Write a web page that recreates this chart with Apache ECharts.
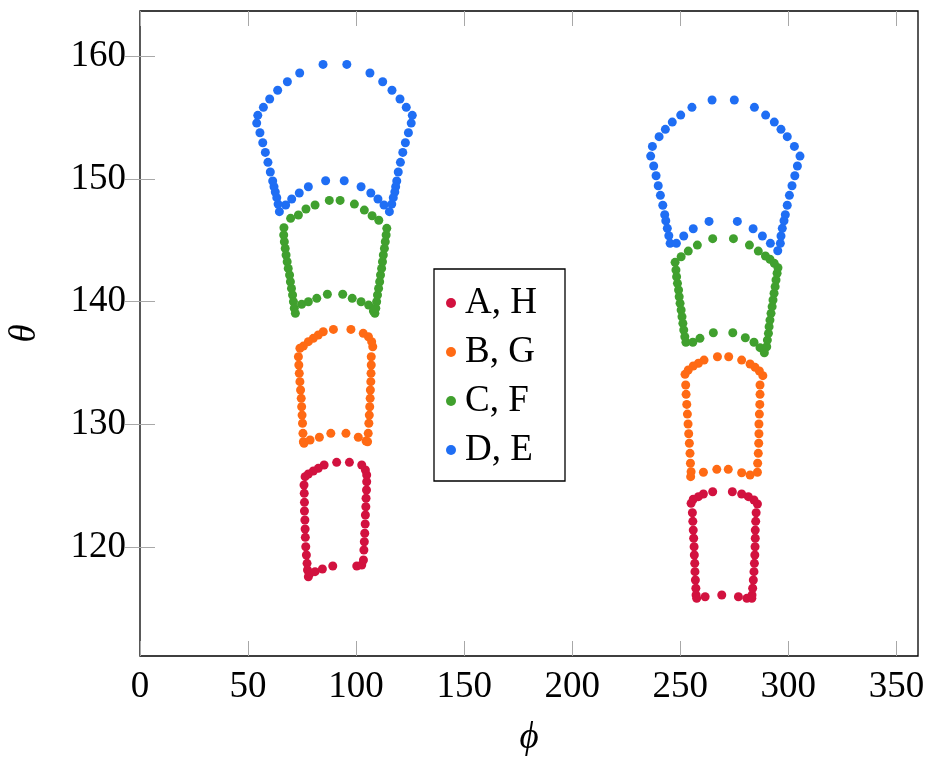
<!DOCTYPE html>
<html>
<head>
<meta charset="utf-8">
<script src="https://cdn.jsdelivr.net/npm/echarts@6/dist/echarts.min.js"></script>
<style>
  html, body { margin: 0; padding: 0; background: #fff; }
  #chart { width: 928px; height: 758px; }
</style>
</head>
<body>
<div id="chart"></div>
<script>
  // tick values
  var xTicks = [0, 50, 100, 150, 200, 250, 300, 350];
  var yTicks = [120, 130, 140, 150, 160];

  // legend names (one colour per pair)
  var names = ['A, H', 'B, G', 'C, F', 'D, E'];
  var colors = ['#d2123f', '#ff6a14', '#40a02e', '#1f6ef4'];

  // [phi, theta] points, left cluster
  var redLeft = [[91.0,126.9],[96.9,126.9],[85.2,126.68],[82.5,126.41],[80.2,126.19],[77.9,125.95],[76.4,125.73],
    [75.9,125.05],[76.0,124.37],[76.1,123.64],[76.1,122.93],[76.3,122.2],[76.4,121.47],[76.5,120.79],[76.7,120.02],
    [77.0,119.35],[77.3,118.67],[77.5,118.13],[77.9,117.58],[78.7,117.86],[81.0,117.99],[84.4,118.21],[89.2,118.45],
    [100.3,118.45],[102.6,118.53],[103.4,118.94],[103.6,119.76],[103.8,120.43],[104.0,121.12],[104.2,121.87],
    [104.3,122.61],[104.5,123.28],[104.6,123.97],[104.8,124.64],[104.9,125.32],[104.9,125.87],[104.3,126.27],[102.6,126.68]];
  var orangeLeft = [[89.5,137.73],[97.6,137.73],[84.8,137.54],[82.5,137.27],[80.2,137.0],[77.9,136.73],[75.6,136.37],[74.0,136.19],
    [73.3,135.5],[73.5,134.83],[73.7,134.15],[74.0,133.47],[74.3,132.79],[74.6,132.11],[74.8,131.43],[75.0,130.75],
    [75.2,130.08],[75.4,129.26],[75.6,128.58],[75.9,128.45],[78.7,128.72],[83.0,128.94],[88.3,129.26],[95.3,129.26],
    [101.0,128.94],[104.6,128.64],[105.3,128.58],[105.6,129.26],[105.9,130.08],[106.1,130.75],[106.3,131.43],
    [106.5,132.11],[106.6,132.79],[106.8,133.47],[106.9,134.15],[107.0,134.83],[107.0,135.5],[107.7,136.32],
    [107.2,136.73],[105.7,137.13],[103.3,137.41]];
  var greenLeft = [[87.6,148.24],[92.6,148.24],[81.0,147.86],[76.8,147.54],[73.3,147.05],[69.7,146.78],[66.6,146.01],
    [66.5,145.42],[66.8,144.87],[67.2,144.33],[67.6,143.79],[68.1,143.24],[68.6,142.7],[69.2,142.16],[69.6,141.61],
    [70.1,141.07],[70.6,140.53],[71.0,139.98],[71.4,139.45],[71.9,139.04],[74.8,139.77],[77.9,139.98],[81.8,140.26],
    [86.7,140.59],[93.8,140.59],[98.2,140.26],[102.3,139.98],[105.8,139.71],[108.0,139.23],[108.7,139.04],
    [109.1,139.45],[109.5,139.98],[109.9,140.53],[110.4,141.07],[110.9,141.61],[111.3,142.16],[111.8,142.7],
    [112.2,143.24],[112.6,143.79],[113.1,144.33],[113.5,144.87],[113.9,145.42],[114.2,145.96],[110.5,146.62],
    [107.4,146.99],[103.8,147.45],[99.2,147.94]];
  var blueLeft = [[54.0,154.54],[54.5,155.17],[57.1,155.82],[60.0,156.5],[63.7,157.21],[68.2,157.91],[73.9,158.62],
    [84.7,159.32],[95.7,159.32],[106.4,158.62],[112.3,157.91],[116.6,157.21],[120.3,156.5],[123.2,155.82],
    [126.0,155.17],[125.5,154.54],[124.2,153.75],[122.8,152.94],[121.6,152.15],[120.5,151.34],[119.5,150.55],
    [118.8,149.82],[118.3,149.35],[117.9,148.92],[117.2,148.46],[116.5,147.94],[115.4,147.32],[112.9,147.86],
    [110.1,148.35],[106.8,148.84],[102.3,149.35],[94.5,149.84],[85.9,149.84],[77.9,149.35],[73.7,148.84],
    [70.2,148.35],[67.4,147.86],[64.5,147.32],[63.9,147.94],[63.3,148.46],[62.6,148.92],[62.0,149.35],
    [61.4,149.82],[60.3,150.55],[59.2,151.34],[58.0,152.15],[56.8,152.94],[55.5,153.75]];

  // [phi, theta] points, right cluster
  var redRight = [[265.0,124.5],[274.1,124.5],[260.7,124.32],[258.4,124.1],[256.0,123.89],[255.0,123.56],
    [255.6,122.79],[255.8,122.09],[256.0,121.38],[256.2,120.71],[256.4,120.02],[256.5,119.35],[256.7,118.67],
    [256.8,117.99],[257.0,117.31],[257.2,116.64],[257.3,116.09],[257.6,115.82],[261.5,115.95],[269.2,116.09],
    [276.9,115.95],[280.8,115.82],[283.1,115.82],[283.2,116.09],[283.5,116.64],[283.8,117.31],[284.1,117.99],
    [284.3,118.67],[284.5,119.35],[284.6,120.02],[284.7,120.71],[284.7,121.38],[284.9,122.09],[285.1,122.79],
    [285.7,123.5],[284.1,123.83],[281.5,124.1],[278.4,124.32]];
  var orangeRight = [[267.2,135.5],[272.4,135.5],[261.0,135.23],[258.4,134.97],[256.0,134.75],[253.7,134.42],[252.2,134.07],
    [252.5,133.2],[252.7,132.44],[253.0,131.62],[253.3,130.83],[253.6,130.02],[253.9,129.23],[254.2,128.45],
    [254.5,127.63],[254.7,126.82],[255.0,126.13],[254.8,125.73],[260.7,126.09],[266.9,126.33],[272.2,126.33],
    [278.4,126.05],[282.3,125.87],[285.7,126.09],[285.8,126.82],[286.1,127.63],[286.3,128.45],[286.4,129.23],
    [286.4,130.02],[286.6,130.83],[286.8,131.62],[286.9,132.44],[286.9,133.2],[288.2,133.96],[286.6,134.34],
    [284.6,134.64],[282.3,134.91],[278.4,135.23]];
  var greenRight = [[265.0,145.12],[274.6,145.12],[257.9,144.6],[253.7,144.11],[250.4,143.65],[247.6,143.19],
    [248.0,142.57],[248.3,142.02],[248.7,141.48],[249.2,140.94],[249.5,140.39],[249.9,139.85],[250.4,139.31],
    [250.8,138.76],[251.2,138.22],[251.6,137.68],[252.1,137.13],[252.6,136.68],[255.8,136.68],[259.1,137.0],
    [265.3,137.46],[274.3,137.46],[280.1,137.05],[284.1,136.68],[286.9,136.24],[288.9,135.83],[290.0,136.32],
    [290.3,136.86],[290.8,137.41],[291.1,137.95],[291.5,138.49],[292.0,139.04],[292.5,139.58],[292.9,140.12],
    [293.4,140.67],[293.9,141.21],[294.3,141.75],[294.8,142.3],[295.2,142.75],[293.5,143.11],[291.5,143.44],
    [289.4,143.71],[286.1,144.11],[282.0,144.6]];
  var blueRight = [[264.7,156.42],[275.0,156.42],[255.4,155.82],[250.2,155.19],[246.3,154.62],[243.1,154.03],
    [240.2,153.43],[237.1,152.64],[236.3,151.85],[237.7,151.04],[238.8,150.25],[239.8,149.43],[240.8,148.65],
    [241.9,147.84],[242.8,147.07],[243.3,146.58],[244.0,145.96],[244.7,145.36],[245.3,144.74],[248.2,144.74],
    [251.6,145.34],[256.0,145.93],[263.3,146.53],[276.4,146.53],[283.7,145.93],[288.0,145.34],[291.7,144.74],
    [295.1,144.14],[296.3,144.74],[296.6,145.34],[297.2,145.96],[298.0,146.58],[298.6,147.07],[299.5,147.84],
    [300.5,148.65],[301.7,149.43],[303.0,150.25],[304.2,151.04],[305.4,151.85],[302.8,152.64],[299.5,153.43],
    [296.6,154.03],[293.5,154.62],[289.5,155.19],[284.3,155.82]];

  var seriesData = [
    redLeft.concat(redRight),
    orangeLeft.concat(orangeRight),
    greenLeft.concat(greenRight),
    blueLeft.concat(blueRight)
  ];

  var font = 'Liberation Serif';
  var fs = 37;
  var tickStyle = { show: true, inside: true, length: 15, lineStyle: { color: '#a8a8a8', width: 1 } };

  var chart = echarts.init(document.getElementById('chart'));
  var option = {
    animation: false,
    backgroundColor: '#fff',
    textStyle: { fontFamily: font },
    grid: {
      left: 140, right: 10, top: 11, bottom: 102,
      outerBoundsMode: 'none',
      containLabel: false,
      show: true, borderColor: '#000', borderWidth: 1.3, backgroundColor: 'transparent'
    },
    legend: {
      orient: 'vertical',
      left: 434, top: 269,
      padding: [14, 14, 11, 12],
      borderColor: '#000', borderWidth: 1.3,
      backgroundColor: '#fff',
      icon: 'circle',
      itemWidth: 10, itemHeight: 10,
      itemGap: 9,
      textStyle: { fontFamily: font, fontSize: fs, color: '#000', lineHeight: 40, width: 86, padding: [0, 0, 0, 4] },
      data: names
    },
    xAxis: [{
      type: 'value', min: 0, max: 360, position: 'bottom',
      name: 'ϕ', nameLocation: 'middle', nameGap: 64,
      nameTextStyle: { fontFamily: font, fontStyle: 'italic', fontSize: fs, color: '#000' },
      axisLine: { show: false },
      splitLine: { show: false },
      axisTick: Object.assign({ customValues: xTicks }, tickStyle),
      axisLabel: { customValues: xTicks, fontFamily: font, fontSize: fs, color: '#000', margin: 13 }
    }, {
      type: 'value', min: 0, max: 360, position: 'top',
      axisLine: { show: false }, splitLine: { show: false },
      axisTick: Object.assign({ customValues: xTicks }, tickStyle),
      axisLabel: { show: false }
    }],
    yAxis: [{
      type: 'value', min: 111.12, max: 163.67, position: 'left',
      name: 'θ', nameLocation: 'middle', nameGap: 96, nameRotate: 90,
      nameTextStyle: { fontFamily: font, fontStyle: 'italic', fontSize: fs, color: '#000' },
      axisLine: { show: false },
      splitLine: { show: false },
      axisTick: Object.assign({ customValues: yTicks }, tickStyle),
      axisLabel: { customValues: yTicks, fontFamily: font, fontSize: fs, color: '#000', margin: 14 }
    }, {
      type: 'value', min: 111.12, max: 163.67, position: 'right',
      axisLine: { show: false }, splitLine: { show: false },
      axisTick: Object.assign({ customValues: yTicks }, tickStyle),
      axisLabel: { show: false }
    }],
    series: names.map(function (n, i) {
      return {
        name: n,
        type: 'scatter',
        symbol: 'circle',
        symbolSize: 9,
        itemStyle: { color: colors[i], opacity: 1 },
        data: seriesData[i]
      };
    })
  };
  chart.setOption(option);
</script>
</body>
</html>
